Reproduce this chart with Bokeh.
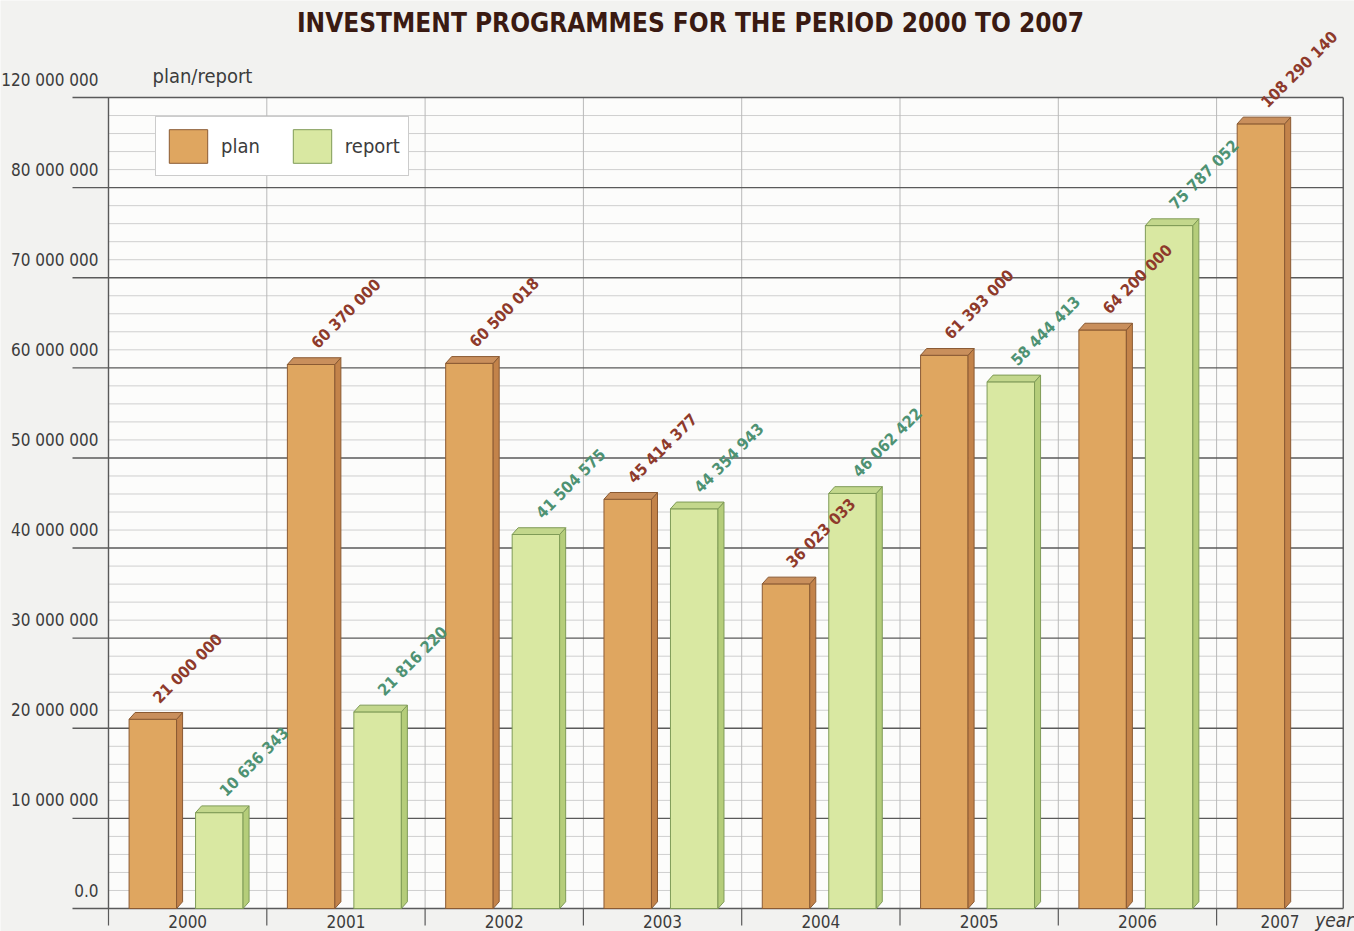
import numpy as np
from bokeh.plotting import figure
from bokeh.models import ColumnDataSource, LabelSet, Label, Legend, LegendItem, Range1d
from bokeh.core.properties import value
from bokeh.embed import file_html
from bokeh.resources import INLINE

# ---------------- data ----------------
years = ["2000", "2001", "2002", "2003", "2004", "2005", "2006", "2007"]
plan = [21000000, 60370000, 60500018, 45414377, 36023033, 61393000, 64200000, 108290140]
report = [10636343, 21816220, 41504575, 44354943, 46062422, 58444413, 75787052]
plan_labels = ["21 000 000", "60 370 000", "60 500 018", "45 414 377", "36 023 033",
               "61 393 000", "64 200 000", "108 290 140"]
report_labels = ["10 636 343", "21 816 220", "41 504 575", "44 354 943", "46 062 422",
                 "58 444 413", "75 787 052"]
tick_values = [0, 10000000, 20000000, 30000000, 40000000, 50000000, 60000000,
               70000000, 80000000, 120000000]
tick_labels = ["0.0", "10 000 000", "20 000 000", "30 000 000", "40 000 000", "50 000 000",
               "60 000 000", "70 000 000", "80 000 000", "120 000 000"]

# broken axis: above 80 000 000 the scale is compressed 4x
BREAK = 80000000
ABOVE = 0.25


def disp(v):
    return v if v <= BREAK else BREAK + (v - BREAK) * ABOVE


FONT = "'DejaVu Sans Condensed', Roboto, sans-serif"
W, H = 1354, 931
# placement of the chart body on the canvas (pixels)
X0_PX, UNIT_PX = 108, 158.3          # x = 0 position, pixels per year group
Y0_PX, M_PX = 908, 9.011 / 1e6       # y = 0 position, pixels per unit value
XSTART, XEND = -36 / UNIT_PX, 7.80
YTOP = disp(tick_values[-1])
TICK = 17 / M_PX

PLAN_FRONT, PLAN_SIDE, PLAN_TOP, PLAN_LINE = "#dfa660", "#c3834a", "#c98f5c", "#8a5a33"
REP_FRONT, REP_SIDE, REP_TOP, REP_LINE = "#d9e8a2", "#b5cd7a", "#c3d78c", "#7f9b57"
PLAN_TXT, REP_TXT = "#8e3a2b", "#4e9273"
TXT = "#3c3c3c"

p = figure(width=W, height=H, output_backend="svg", toolbar_location=None,
           x_range=Range1d(-X0_PX / UNIT_PX, (W - X0_PX) / UNIT_PX),
           y_range=Range1d(-(H - Y0_PX) / M_PX, Y0_PX / M_PX),
           x_axis_location=None, y_axis_location=None,
           min_border=0)
p.background_fill_color = "#f2f2f0"
p.border_fill_color = "#f2f2f0"
p.outline_line_color = None
p.xgrid.visible = False
p.ygrid.visible = False

# inner panel
p.quad(left=[0], right=[XEND], bottom=[0], top=[YTOP], fill_color="#fcfcfb", line_color=None)

# grid
minor = [v for v in np.arange(2000000, YTOP, 2000000) if v % 10000000 != 0]
p.segment(x0=[0] * len(minor), x1=[XEND] * len(minor), y0=minor, y1=minor,
          line_color="#cfcfcf", line_width=1)
bounds = list(range(1, len(years)))
p.segment(x0=bounds, x1=bounds, y0=[0] * len(bounds), y1=[YTOP] * len(bounds),
          line_color="#b9b9b9", line_width=1)
major = [disp(t) for t in tick_values]
p.segment(x0=[XSTART] * len(major), x1=[XEND] * len(major), y0=major, y1=major,
          line_color="#5a5a5a", line_width=1.4)
p.segment(x0=[0, XEND], x1=[0, XEND], y0=[0, 0], y1=[YTOP, YTOP],
          line_color="#5a5a5a", line_width=1.4)
# x ticks below the base line at group boundaries
xt = list(range(len(years)))
p.segment(x0=xt, x1=xt, y0=[0] * len(xt), y1=[-TICK] * len(xt),
          line_color="#5a5a5a", line_width=1.2)

# bars
BW, DX, DY = 0.30, 0.038, 750000
OFF_PLAN, OFF_REP = 0.28, 0.70


def bars(vals, off, front, side, topc, line):
    xc = [i + off for i in range(len(vals))]
    tops = [disp(v) for v in vals]
    r = p.vbar(x=xc, width=BW, top=tops, bottom=0, fill_color=front, line_color=line, line_width=1)
    sx, sy, tx, ty = [], [], [], []
    for c, t in zip(xc, tops):
        x0, x1 = c - BW / 2, c + BW / 2
        sx.append([x1, x1, x1 + DX, x1 + DX])
        sy.append([0, t, t + DY, DY])
        tx.append([x0, x1, x1 + DX, x0 + DX])
        ty.append([t, t, t + DY, t + DY])
    p.patches(sx, sy, fill_color=side, line_color=line, line_width=1)
    p.patches(tx, ty, fill_color=topc, line_color=line, line_width=1)
    return r, xc, tops


r_plan, xp, tp = bars(plan, OFF_PLAN, PLAN_FRONT, PLAN_SIDE, PLAN_TOP, PLAN_LINE)
r_rep, xr, tr = bars(report, OFF_REP, REP_FRONT, REP_SIDE, REP_TOP, REP_LINE)

# value labels
for xs, ys, txt, col in ((xp, tp, plan_labels, PLAN_TXT), (xr, tr, report_labels, REP_TXT)):
    src = ColumnDataSource(dict(x=xs, y=ys, t=txt))
    p.add_layout(LabelSet(x="x", y="y", text="t", source=src, angle=np.pi / 4,
                          x_offset=3, y_offset=19, text_align="left", text_baseline="middle",
                          text_font=value(FONT), text_font_style="bold",
                          text_font_size=value("16px"), text_color=col))

# y tick labels (placed above their lines, as in the original)
ysrc = ColumnDataSource(dict(x=[0] * len(tick_values), y=major, t=tick_labels))
p.add_layout(LabelSet(x="x", y="y", text="t", source=ysrc, x_offset=-10, y_offset=18,
                      text_align="right", text_baseline="middle", text_font=value(FONT),
                      text_font_size=value("17px"), text_color=TXT))
p.add_layout(Label(x=0, y=YTOP, x_offset=44, y_offset=22, text="plan/report",
                   text_align="left", text_baseline="middle", text_font=FONT,
                   text_font_size="20px", text_color=TXT))

# year labels, centred in each group
yl_x = [(i + min(i + 1, XEND)) / 2 for i in range(len(years))]
xsrc = ColumnDataSource(dict(x=yl_x, y=[0] * len(years), t=years))
p.add_layout(LabelSet(x="x", y="y", text="t", source=xsrc, y_offset=-13,
                      text_align="center", text_baseline="middle", text_font=value(FONT),
                      text_font_size=value("17px"), text_color=TXT))
p.add_layout(Label(x=XEND, y=0, x_offset=-28, y_offset=-11, text="year",
                   text_align="left", text_baseline="middle", text_font=FONT,
                   text_font_style="italic", text_font_size="19px", text_color=TXT))

# title
p.add_layout(Label(x=690, y=H - 22, x_units="screen", y_units="screen",
                   text="INVESTMENT PROGRAMMES FOR THE PERIOD 2000 TO 2007",
                   text_align="center", text_baseline="middle", text_font=FONT,
                   text_font_style="bold", text_font_size="26px", text_color="#3a1a12"))

# legend
legend = Legend(items=[LegendItem(label="plan", renderers=[r_plan]),
                       LegendItem(label="report", renderers=[r_rep])],
                orientation="horizontal", location=(155, H - 176),
                glyph_width=48, glyph_height=42, label_standoff=9, spacing=28,
                padding=8, margin=0, label_text_font=FONT, label_text_font_size="20px",
                label_text_color=TXT, border_line_color="#9a9a9a",
                background_fill_color="#ffffff", background_fill_alpha=1)
p.add_layout(legend)

open("out.html", "w").write(file_html(p, INLINE))
